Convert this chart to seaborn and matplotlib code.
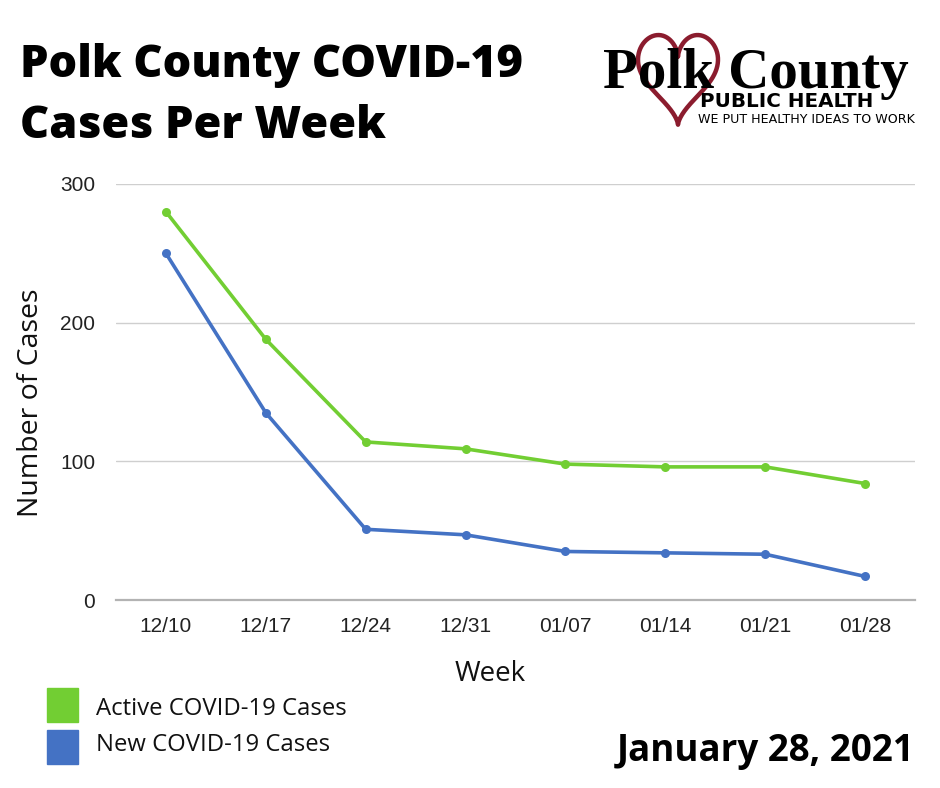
import numpy as np
import pandas as pd
import matplotlib
matplotlib.use("Agg")
import matplotlib.pyplot as plt
import matplotlib.patches as mpatches
import seaborn as sns

weeks = ["12/10", "12/17", "12/24", "12/31", "01/07", "01/14", "01/21", "01/28"]
active_cases = [280, 188, 114, 109, 98, 96, 96, 84]
new_cases = [250, 135, 51, 47, 35, 34, 33, 17]
series_names = ["Active COVID-19 Cases", "New COVID-19 Cases"]
series_colors = ["#72CE33", "#4472C4"]
y_ticks = [0, 100, 200, 300]

df = pd.DataFrame({
    "Week": weeks * 2,
    "Cases": active_cases + new_cases,
    "Series": [series_names[0]] * len(weeks) + [series_names[1]] * len(weeks),
})

sns.set_theme(style="white")
plt.rcParams["font.family"] = ["Open Sans", "DejaVu Sans"]

fig = plt.figure(figsize=(9.4, 7.88), dpi=100)
ax = fig.add_axes([116 / 940, 1 - 600 / 788, (915 - 116) / 940, (600 - 184) / 788])

sns.lineplot(data=df, x="Week", y="Cases", hue="Series", palette=series_colors,
             hue_order=series_names, marker="o", markersize=6.5, markeredgewidth=0,
             linewidth=2.6, ax=ax, legend=False, sort=False)

ax.set_xlim(-0.5, len(weeks) - 0.5)
ax.set_ylim(0, 300)
ax.set_yticks(y_ticks)
ax.grid(axis="y", color="#cfcfcf", linewidth=1.0)
ax.grid(axis="x", visible=False)
ax.set_axisbelow(True)
for s in ["left", "right", "top"]:
    ax.spines[s].set_visible(False)
ax.spines["bottom"].set_color("#b3b3b3")
ax.spines["bottom"].set_linewidth(1.6)
ax.tick_params(axis="both", length=0, labelsize=15, colors="#222222")
ax.tick_params(axis="x", pad=12)
ax.tick_params(axis="y", pad=15)
for lab in ax.get_xticklabels() + ax.get_yticklabels():
    lab.set_fontfamily(["Liberation Sans", "DejaVu Sans"])
ax.set_xlabel("")
ax.set_ylabel("")

fig.text(31 / 940, 1 - 403 / 788, "Number of Cases", rotation=90, ha="center", va="center",
         fontsize=20.5, color="#111111")
fig.text(490 / 940, 1 - 674 / 788, "Week", ha="center", va="center", fontsize=20, color="#111111")

# Title
fig.text(20 / 940, 1 - 66 / 788, "Polk County COVID-19", ha="left", va="center",
         fontsize=32.5, fontweight="heavy", color="black")
fig.text(20 / 940, 1 - 126 / 788, "Cases Per Week", ha="left", va="center",
         fontsize=32.5, fontweight="heavy", color="black")

# Date
fig.text(915 / 940, 1 - 751 / 788, "January 28, 2021", ha="right", va="center",
         fontsize=26.5, fontweight="bold", color="black")

# Legend
legend_text_y = [709, 745]
legend_box_y = [688, 730]
for name, col, ty, by in zip(series_names, series_colors, legend_text_y, legend_box_y):
    fig.patches.append(mpatches.Rectangle((47 / 940, 1 - (by + 34) / 788), 31 / 940, 34 / 788,
                                          transform=fig.transFigure, color=col))
    fig.text(96 / 940, 1 - ty / 788, name, ha="left", va="center",
             fontsize=17.2, color="#111111")

# Logo
heart = "#8B1C2E"
t = np.linspace(0, 2 * np.pi, 400)
hx = 16 * np.sin(t) ** 3
hy = 13 * np.cos(t) - 5 * np.cos(2 * t) - 2 * np.cos(3 * t) - np.cos(4 * t)
cx, cy = 678, 72
fig.lines.append(plt.Line2D((cx + hx * 2.5) / 940, 1 - (cy - hy * 3.1) / 788,
                            transform=fig.transFigure, color=heart, linewidth=3.2))
fig.text(603 / 940, 1 - 88 / 788, "Polk County", ha="left", va="baseline",
         fontsize=41, fontweight="bold", family=["Liberation Serif", "DejaVu Serif"], color="black")
fig.text(700 / 940, 1 - 107 / 788, "PUBLIC HEALTH", ha="left", va="baseline",
         fontsize=14.3, fontweight="bold", family=["DejaVu Sans"], color="black")
fig.text(698 / 940, 1 - 123 / 788, "WE PUT HEALTHY IDEAS TO WORK", ha="left", va="baseline",
         fontsize=9.1, family=["DejaVu Sans"], color="black")

fig.savefig("out.png", dpi=100, facecolor="white")
